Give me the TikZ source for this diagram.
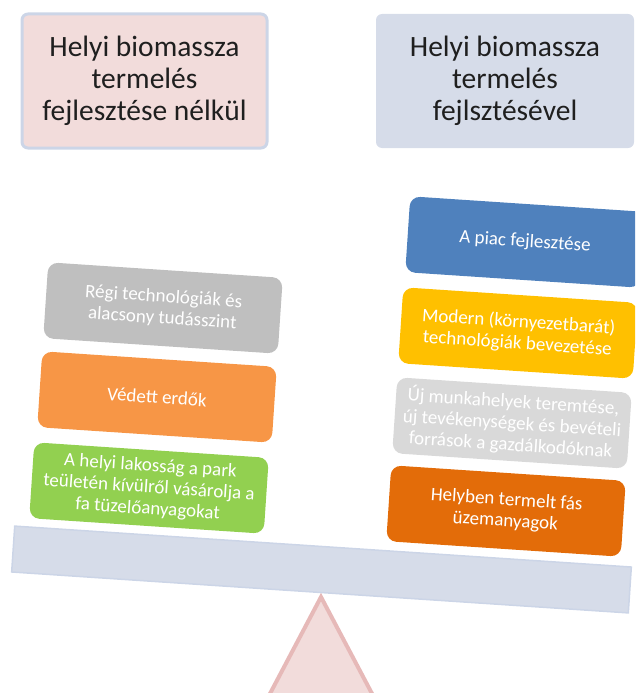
\documentclass[tikz,border=0pt]{standalone}
\usepackage{fontspec}
\setmainfont{Carlito}
\begin{document}
\begin{tikzpicture}[x=1pt,y=-1pt,
  header/.style={rounded corners=6pt, minimum width=#1, minimum height=134pt,
    align=center, font=\fontsize{29.5}{32}\selectfont, text=black!88},
  block/.style={rounded corners=10pt, minimum width=235pt, minimum height=76pt,
    align=center, font=\fontsize{19}{21.5}\selectfont, text=white, rotate=-3.8,
    inner sep=1pt, fill=#1},
]
\definecolor{pinkfill}{HTML}{F2DCDB}
\definecolor{pinkline}{HTML}{E6B9B8}
\definecolor{bluefill}{HTML}{D6DCE9}
\definecolor{blueline}{HTML}{CCD5E7}
\definecolor{cblue}{HTML}{4F81BD}
\definecolor{cyellow}{HTML}{FFC000}
\definecolor{clgray}{HTML}{D9D9D9}
\definecolor{cdorange}{HTML}{E36C09}
\definecolor{cgray}{HTML}{BFBFBF}
\definecolor{corange}{HTML}{F79646}
\definecolor{cgreen}{HTML}{92D050}

\useasboundingbox (0,0) rectangle (635,693);
\clip (0,0) rectangle (635,693);

% headings
\node[header=245pt, fill=pinkfill, draw=blueline, line width=3pt] (hleft) at (144.5,81)
  {Helyi biomassza\\termelés\\fejlesztése nélkül};
\node[header=258pt, fill=bluefill] (hright) at (505,81)
  {Helyi biomassza\\termelés\\fejlsztésével};

% fulcrum
\draw[pinkline, fill=pinkfill, line width=4pt, line join=miter]
  (321,597) -- (378,705) -- (264,705) -- cycle;

% beam
\node[rotate=-3.8, fill=bluefill, draw=blueline, line width=1.5pt,
  minimum width=618pt, minimum height=46pt, inner sep=0pt] (beam) at (321.5,569.5) {};

% weights on the left
\node[block=cgray] (lold) at (163,308) {Régi technológiák és\\alacsony tudásszint};
\node[block=corange] (lforest) at (157,397) {Védett erdők};
\node[block=cgreen] (lbuy) at (149,488) {A helyi lakosság a park\\teületén kívülről vásárolja a\\fa tüzelőanyagokat};

% weights on the right
\node[block=cblue] (rmarket) at (525,242) {A piac fejlesztése};
\node[block=cyellow] (rtech) at (518,333) {Modern (környezetbarát)\\technológiák bevezetése};
\node[block=clgray] (rjobs) at (512,423) {Új munkahelyek teremtése,\\új tevékenységek és bevételi\\források a gazdálkodóknak};
\node[block=cdorange] (rfuel) at (506,511) {Helyben termelt fás\\üzemanyagok};
\end{tikzpicture}
\end{document}
